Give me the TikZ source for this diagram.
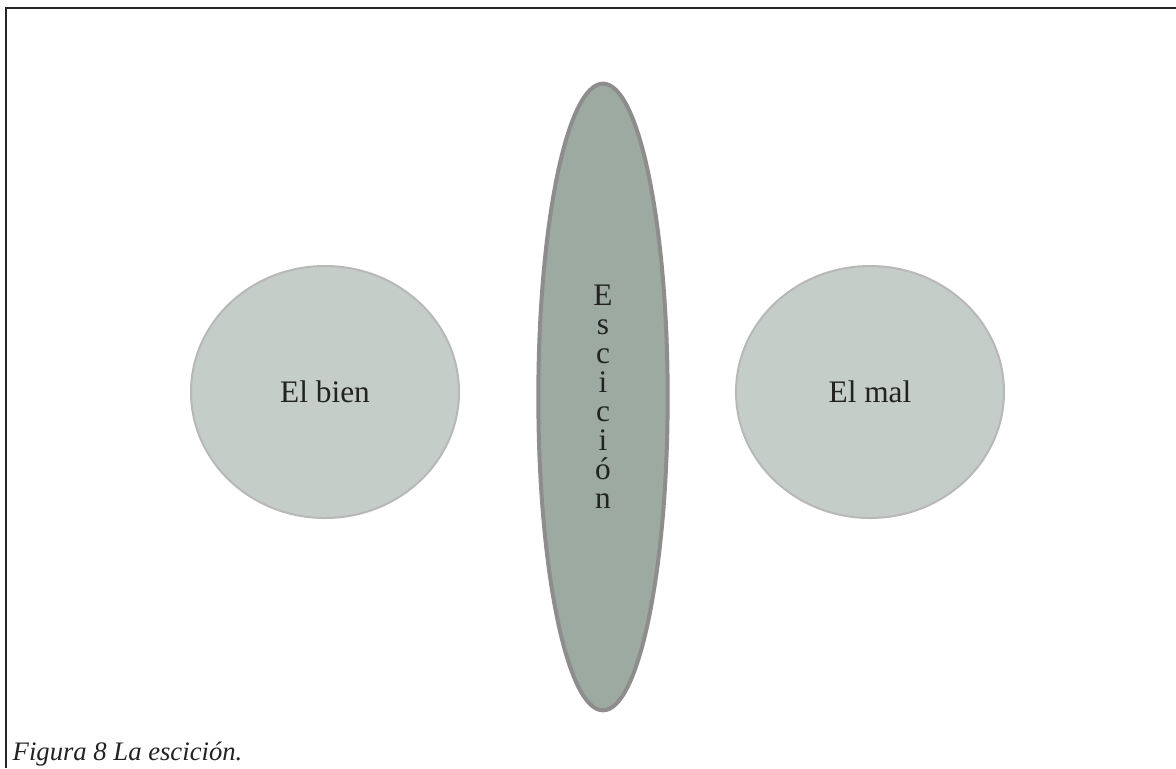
\documentclass[tikz,border=0pt]{standalone}
\usepackage{fontspec}
\setmainfont{Liberation Serif}
\usetikzlibrary{shapes.geometric}

\definecolor{sidefill}{HTML}{C5CDC8}
\definecolor{sideline}{HTML}{B8B8B8}
\definecolor{midfill}{HTML}{9DAAA2}
\definecolor{midline}{HTML}{8E8C8C}
\definecolor{txt}{HTML}{222222}

\tikzset{
  lado/.style={ellipse, draw=sideline, fill=sidefill, line width=1.5pt,
    minimum width=201pt, minimum height=189pt, inner sep=0pt, text=txt,
    font=\fontsize{23.5}{27}\selectfont},
  centro/.style={ellipse, draw=midline, fill=midfill, line width=3pt,
    minimum width=97pt, minimum height=470pt, inner sep=0pt, text=txt,
    align=center, font=\fontsize{23.5}{21.75}\selectfont}
}

\begin{document}
\begin{tikzpicture}[x=0.75pt,y=-0.75pt]
        % Coordinates
        \coordinate (TR) at (1176,8);
        \coordinate (TL) at (6,8);
        \coordinate (BL) at (6,768);
        \useasboundingbox (0,0) rectangle (1176,768);

        % Drawing
        \draw[line width=1.9pt, black!85] (TR) -- (TL) -- (BL);
        \node[lado] (bien) at (325,392) {El bien};
        \node[lado] (mal) at (870,392) {El mal};
        \node[centro] (escision) at (603,397) {E\\s\\c\\i\\c\\i\\ó\\n};
        \node[anchor=base west, text=txt, font=\itshape\fontsize{20}{24}\selectfont] (caption) at (8,760) {Figura 8 La escición.};
        \end{tikzpicture}
\end{document}
